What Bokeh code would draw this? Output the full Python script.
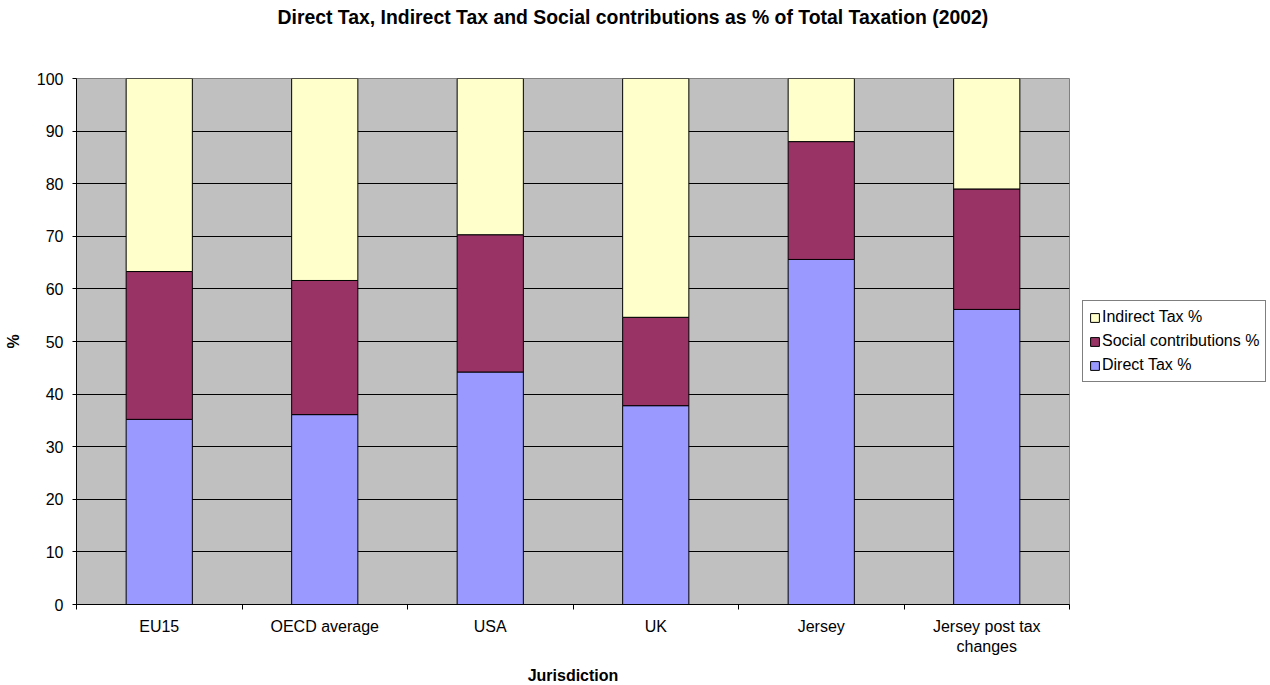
from bokeh.plotting import figure
from bokeh.models import (ColumnDataSource, FixedTicker, Legend, LegendItem, Range1d, Title)
from bokeh.embed import file_html
from bokeh.resources import INLINE

categories = ["EU15", "OECD average", "USA", "UK", "Jersey", "Jersey post tax\nchanges"]
direct_tax = [35.2, 36.1, 44.2, 37.8, 65.6, 56.1]
social_contrib = [28.1, 25.5, 26.1, 16.8, 22.4, 22.9]
indirect_tax = [36.7, 38.4, 29.7, 45.4, 12.0, 21.0]
series_names = ["Direct Tax %", "Social contributions %", "Indirect Tax %"]
colors = ["#9999FF", "#993366", "#FFFFCC"]
y_ticks = list(range(0, 101, 10))
title_text = "Direct Tax, Indirect Tax and Social contributions as % of Total Taxation (2002)"

FONT = "Liberation Sans"

xpos = [i + 0.5 for i in range(len(categories))]
source = ColumnDataSource(dict(x=xpos, direct=direct_tax, social=social_contrib, indirect=indirect_tax))

p = figure(frame_width=993, frame_height=526, output_backend="svg", toolbar_location=None,
           x_range=Range1d(0, len(categories)), y_range=Range1d(0, 100),
           min_border_left=76, min_border_right=201, min_border_top=78, min_border_bottom=81)

p.background_fill_color = "#C0C0C0"
p.border_fill_color = "white"
p.outline_line_color = "#808080"
p.outline_line_width = 1

renderers = p.vbar_stack(["direct", "social", "indirect"], x="x", width=0.4, source=source,
                         fill_color=colors, line_color="black", line_width=1)

# main title; a spacer title pushes it up towards the top of the page
p.title.text = title_text
p.title.align = "left"
p.title.offset = 201
p.title.text_font = FONT
p.title.text_font_size = "19.4px"
p.title.text_font_style = "bold"
p.title.text_color = "black"
p.title.standoff = 4
spacer = Title(text=" ", text_font_size="1px", standoff=46)
p.add_layout(spacer, "above")

# axes
p.xaxis.ticker = FixedTicker(ticks=xpos, minor_ticks=list(range(len(categories) + 1)))
p.xaxis.major_label_overrides = {x: c for x, c in zip(xpos, categories)}
p.xaxis.major_tick_out = 0
p.xaxis.major_tick_in = 0
p.xaxis.minor_tick_out = 5
p.xaxis.minor_tick_in = 0
p.xaxis.minor_tick_line_color = "black"
p.xaxis.axis_line_color = "black"
p.xaxis.major_label_text_font = FONT
p.xaxis.major_label_text_font_size = "16px"
p.xaxis.major_label_text_color = "black"
p.xaxis.major_label_standoff = 8
p.xaxis.axis_label = "Jurisdiction"
p.xaxis.axis_label_text_font = FONT
p.xaxis.axis_label_text_font_size = "16px"
p.xaxis.axis_label_text_font_style = "bold"
p.xaxis.axis_label_text_color = "black"
p.xaxis.axis_label_standoff = 9

p.yaxis.ticker = FixedTicker(ticks=y_ticks, minor_ticks=[])
p.yaxis.major_tick_out = 4
p.yaxis.major_tick_in = 0
p.yaxis.major_tick_line_color = "black"
p.yaxis.axis_line_color = "black"
p.yaxis.major_label_text_font = FONT
p.yaxis.major_label_text_font_size = "16px"
p.yaxis.major_label_text_color = "black"
p.yaxis.major_label_standoff = 9
p.yaxis.axis_label = "%"
p.yaxis.axis_label_text_font = FONT
p.yaxis.axis_label_text_font_size = "16px"
p.yaxis.axis_label_text_font_style = "bold"
p.yaxis.axis_label_text_color = "black"
p.yaxis.axis_label_standoff = 12

p.xgrid.visible = False
p.ygrid.ticker = FixedTicker(ticks=y_ticks)
p.ygrid.grid_line_color = "black"
p.ygrid.grid_line_width = 1

# legend (reverse order: Indirect on top), in right panel
items = [LegendItem(label=series_names[i], renderers=[renderers[i]]) for i in [2, 1, 0]]
legend = Legend(items=items, location="center_left", orientation="vertical",
                label_text_font=FONT, label_text_font_size="16px", label_text_color="black",
                glyph_width=11, glyph_height=11, label_standoff=2,
                label_height=20, spacing=4, padding=6, margin=13,
                border_line_color="black", border_line_width=1,
                background_fill_color="white", background_fill_alpha=1)
p.add_layout(legend, "right")

open("out.html", "w").write(file_html(p, INLINE))
